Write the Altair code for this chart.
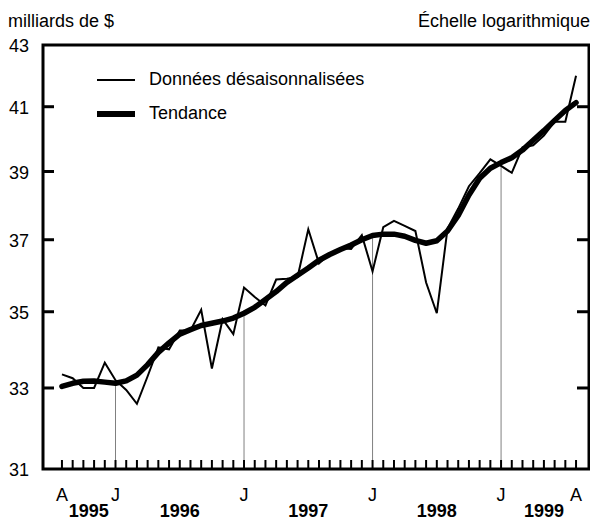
import altair as alt
import pandas as pd

# ---- data ----
months = [
    "1995-08", "1995-09", "1995-10", "1995-11", "1995-12",
    "1996-01", "1996-02", "1996-03", "1996-04", "1996-05", "1996-06", "1996-07",
    "1996-08", "1996-09", "1996-10", "1996-11", "1996-12",
    "1997-01", "1997-02", "1997-03", "1997-04", "1997-05", "1997-06", "1997-07",
    "1997-08", "1997-09", "1997-10", "1997-11", "1997-12",
    "1998-01", "1998-02", "1998-03", "1998-04", "1998-05", "1998-06", "1998-07",
    "1998-08", "1998-09", "1998-10", "1998-11", "1998-12",
    "1999-01", "1999-02", "1999-03", "1999-04", "1999-05", "1999-06", "1999-07",
    "1999-08",
]
raw = [
    33.35, 33.25, 33.0, 33.0, 33.65,
    33.2, 32.95, 32.6, 33.3, 34.05, 34.0, 34.5,
    34.5, 35.05, 33.5, 34.8, 34.4,
    35.66, 35.4, 35.17, 35.88, 35.9, 35.95, 37.3,
    36.33, 36.6, 36.76, 36.74, 37.13,
    36.11, 37.36, 37.54, 37.4, 37.25, 35.8, 34.96,
    37.32, 37.9, 38.56, 38.95, 39.37,
    39.17, 38.96, 39.73, 39.8, 40.1, 40.53, 40.53,
    41.99,
]
trend = [
    33.04, 33.12, 33.17, 33.18, 33.15,
    33.12, 33.18, 33.33, 33.6, 33.92, 34.17, 34.4,
    34.52, 34.63, 34.69, 34.75, 34.83,
    34.96, 35.12, 35.33, 35.55, 35.8, 36.0, 36.2,
    36.42, 36.58, 36.72, 36.85, 37.0,
    37.12, 37.16, 37.16, 37.1, 36.98, 36.9, 36.97,
    37.25, 37.7, 38.3, 38.8, 39.1,
    39.27, 39.42, 39.65, 39.95, 40.25, 40.57, 40.88,
    41.13,
]
month_letters = {0: "A", 5: "J", 17: "J", 29: "J", 41: "J", 48: "A"}
y_ticks = [31, 33, 35, 37, 39, 41, 43]
inner_ticks = [33, 35, 37, 39, 41]
legend_labels = ["Données désaisonnalisées", "Tendance"]
title_left = "milliards de $"
title_right = "Échelle logarithmique"

# ---- tables ----
df = pd.DataFrame({"month": months, "raw": raw, "trend": trend})
df["i"] = range(len(df))
df["year"] = df["month"].str[:4]
df["letter"] = df["i"].map(month_letters).fillna("")
jan = df[df["month"].str.endswith("-01")]
letters = df[df["letter"] != ""]
years = df.groupby("year", as_index=False)["i"].mean()
years["pos"] = years["i"] + 0.5
ticks_df = pd.DataFrame({"v": inner_ticks})
ylab_df = pd.DataFrame({"v": y_ticks})

W, H = 546, 424
FONT = "Liberation Sans"
FS = 18

xs = alt.Scale(domain=[-1.77, 49.21], nice=False, zero=False)
ys = alt.Scale(type="log", domain=[31, 43], nice=False)

base = alt.Chart(df)

trend_line = base.mark_line(color="black", strokeWidth=5.5, strokeJoin="round", strokeCap="round").encode(
    x=alt.X("i:Q", scale=xs, axis=None),
    y=alt.Y("trend:Q", scale=ys, axis=None),
)
raw_line = base.mark_line(color="black", strokeWidth=2, strokeJoin="miter").encode(
    x=alt.X("i:Q", scale=xs, axis=None),
    y=alt.Y("raw:Q", scale=ys, axis=None),
)
jan_rules = alt.Chart(jan).mark_rule(color="#808080", strokeWidth=1).encode(
    x=alt.X("i:Q", scale=xs, axis=None),
    y=alt.Y("trend:Q", scale=ys, axis=None),
    y2=alt.value(H),
)
month_ticks = base.mark_rule(color="black", strokeWidth=2).encode(
    x=alt.X("i:Q", scale=xs, axis=None),
    y=alt.value(H),
    y2=alt.value(H - 9),
)
left_ticks = alt.Chart(ticks_df).mark_rule(color="black", strokeWidth=3).encode(
    y=alt.Y("v:Q", scale=ys, axis=None),
    x=alt.value(0),
    x2=alt.value(11),
)
right_ticks = alt.Chart(ticks_df).mark_rule(color="black", strokeWidth=3).encode(
    y=alt.Y("v:Q", scale=ys, axis=None),
    x=alt.value(W - 12),
    x2=alt.value(W),
)
y_labels = alt.Chart(ylab_df).mark_text(font=FONT, fontSize=FS, align="right", baseline="middle", color="black", dy=2).encode(
    y=alt.Y("v:Q", scale=ys, axis=None),
    x=alt.value(-14),
    text=alt.Text("v:Q", format="d"),
)
letter_text = alt.Chart(letters).mark_text(font=FONT, fontSize=FS, baseline="middle", color="black").encode(
    x=alt.X("i:Q", scale=xs, axis=None),
    y=alt.value(H + 27),
    text="letter:N",
)
year_text = alt.Chart(years).mark_text(font=FONT, fontSize=FS, fontWeight="bold", baseline="middle", color="black").encode(
    x=alt.X("pos:Q", scale=xs, axis=None),
    y=alt.value(H + 43),
    text="year:N",
)

leg0 = pd.DataFrame({"label": [legend_labels[0]]})
leg1 = pd.DataFrame({"label": [legend_labels[1]]})
leg_line0 = alt.Chart(leg0).mark_rule(color="black", strokeWidth=2).encode(
    x=alt.value(54), x2=alt.value(92), y=alt.value(35))
leg_line1 = alt.Chart(leg1).mark_rule(color="black", strokeWidth=6).encode(
    x=alt.value(54), x2=alt.value(92), y=alt.value(69))
leg_text0 = alt.Chart(leg0).mark_text(font=FONT, fontSize=FS, align="left", baseline="middle", color="black").encode(
    x=alt.value(106), y=alt.value(35), text="label:N")
leg_text1 = alt.Chart(leg1).mark_text(font=FONT, fontSize=FS, align="left", baseline="middle", color="black").encode(
    x=alt.value(106), y=alt.value(69), text="label:N")

tl = alt.Chart(pd.DataFrame({"t": [title_left]})).mark_text(
    font=FONT, fontSize=FS, align="left", baseline="middle", color="black").encode(
    x=alt.value(-35), y=alt.value(-23), text="t:N")
tr = alt.Chart(pd.DataFrame({"t": [title_right]})).mark_text(
    font=FONT, fontSize=FS, align="right", baseline="middle", color="black").encode(
    x=alt.value(W + 1), y=alt.value(-23), text="t:N")

chart = alt.layer(
    jan_rules, trend_line, raw_line, month_ticks, left_ticks, right_ticks, y_labels,
    letter_text, year_text, leg_line0, leg_line1, leg_text0, leg_text1, tl, tr,
).properties(
    width=W, height=H,
    autosize=alt.AutoSizeParams(type="none"),
    padding={"left": 35, "top": 37, "right": 1, "bottom": 52},
    background="white",
).configure_view(stroke="black", strokeWidth=3)

chart.save("out.html", embed_options={"renderer": "svg", "actions": False})
